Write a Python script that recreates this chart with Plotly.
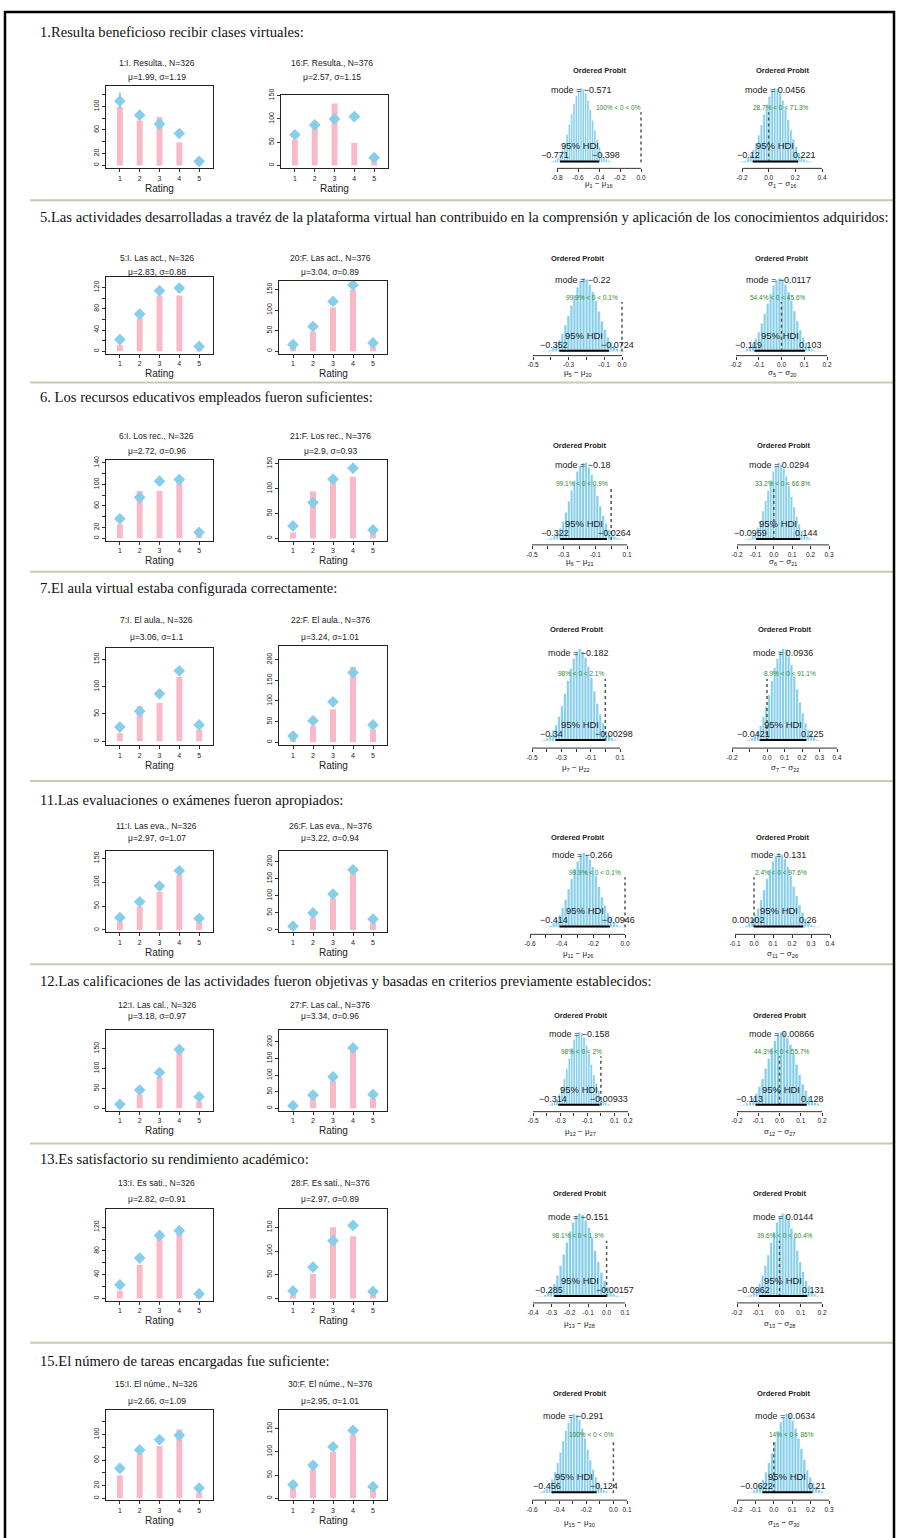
import plotly.graph_objects as go

W, H = 899, 1538


def fx(px):
    return px / W


def fy(py):
    return 1 - py / H


# ------------------------------------------------------------------ data
question_titles = [
    "1.Resulta beneficioso recibir clases virtuales:",
    "5.Las actividades desarrolladas a travéz de la plataforma virtual han contribuido en la comprensión y aplicación de los conocimientos adquiridos:",
    "6. Los recursos educativos empleados fueron suficientes:",
    "7.El aula virtual estaba configurada correctamente:",
    "11.Las evaluaciones o exámenes fueron apropiados:",
    "12.Las calificaciones de las actividades fueron objetivas y basadas en criterios previamente establecidos:",
    "13.Es satisfactorio su rendimiento académico:",
    "15.El número de tareas encargadas fue suficiente:",
]
left_labels = ["1:I. Resulta., N=326", "5:I. Las act., N=326", "6:I. Los rec., N=326", "7:I. El aula., N=326",
               "11:I. Las eva., N=326", "12:I. Las cal., N=326", "13:I. Es sati., N=326", "15:I. El núme., N=326"]
right_labels = ["16:F. Resulta., N=376", "20:F. Las act., N=376", "21:F. Los rec., N=376", "22:F. El aula., N=376",
                "26:F. Las eva., N=376", "27:F. Las cal., N=376", "28:F. Es sati., N=376", "30:F. El núme., N=376"]
left_stats = ["μ=1.99, σ=1.19", "μ=2.83, σ=0.88", "μ=2.72, σ=0.96", "μ=3.06, σ=1.1",
              "μ=2.97, σ=1.07", "μ=3.18, σ=0.97", "μ=2.82, σ=0.91", "μ=2.66, σ=1.09"]
right_stats = ["μ=2.57, σ=1.15", "μ=3.04, σ=0.89", "μ=2.9, σ=0.93", "μ=3.24, σ=1.01",
               "μ=3.22, σ=0.94", "μ=3.34, σ=0.96", "μ=2.97, σ=0.89", "μ=2.95, σ=1.01"]
pair_ids = [(1, 16), (5, 20), (6, 21), (7, 22), (11, 26), (12, 27), (13, 28), (15, 30)]

ratings = [1, 2, 3, 4, 5]

left_counts = [
    [99, 76, 82, 39, 8],
    [12, 62, 105, 105, 5],
    [26, 88, 88, 106, 7],
    [15, 64, 70, 118, 21],
    [16, 49, 80, 115, 16],
    [4, 35, 79, 142, 17],
    [13, 57, 104, 113, 4],
    [36, 70, 82, 108, 9],
]
left_pred = [
    [109, 85, 70, 54, 7],
    [22, 70, 114, 119, 9],
    [36, 76, 106, 109, 11],
    [26, 55, 87, 129, 30],
    [26, 59, 92, 124, 24],
    [10, 46, 90, 148, 29],
    [23, 68, 106, 114, 8],
    [47, 76, 92, 99, 16],
]
left_err = [
    [14, 8, 8, 7, 3],
    [6, 7, 8, 8, 3],
    [7, 7, 8, 8, 3],
    [6, 7, 8, 9, 6],
    [6, 7, 8, 9, 6],
    [4, 6, 8, 9, 6],
    [6, 7, 8, 8, 3],
    [8, 7, 8, 8, 5],
]
right_counts = [
    [56, 80, 133, 49, 24],
    [10, 48, 106, 149, 10],
    [12, 94, 115, 124, 11],
    [10, 40, 80, 183, 30],
    [6, 37, 92, 168, 22],
    [2, 30, 82, 175, 30],
    [9, 52, 150, 131, 8],
    [21, 62, 100, 136, 18],
]
right_pred = [
    [66, 87, 100, 105, 17],
    [16, 60, 121, 161, 20],
    [25, 72, 119, 141, 17],
    [15, 52, 98, 169, 42],
    [11, 50, 105, 176, 32],
    [8, 40, 95, 182, 42],
    [16, 66, 122, 154, 15],
    [29, 71, 111, 146, 25],
]
right_err = [
    [9, 8, 8, 8, 5],
    [5, 7, 9, 9, 5],
    [6, 8, 9, 10, 5],
    [5, 7, 8, 10, 7],
    [4, 7, 9, 10, 7],
    [3, 6, 9, 10, 7],
    [5, 7, 9, 10, 5],
    [6, 7, 9, 9, 5],
]
# y-axis tick step and labelled ticks of the rating panels
left_ystep = [20, 20, 20, 50, 50, 50, 20, 20]
left_ylabels = [[0, 20, 60, 100], [0, 40, 80, 120], [0, 20, 60, 100, 140], [0, 50, 100, 150],
                [0, 50, 100, 150], [0, 50, 100, 150], [0, 40, 80, 120], [0, 20, 60, 100]]
left_yticktop = [120, 120, 140, 150, 150, 150, 120, 120]
right_ystep = [50, 50, 50, 50, 50, 50, 50, 50]
right_ylabels = [[0, 50, 100, 150], [0, 50, 100, 150], [0, 50, 100, 150], [0, 50, 100, 150, 200],
                 [0, 50, 100, 150, 200], [0, 50, 100, 150, 200], [0, 50, 100, 150], [0, 50, 100, 150]]
right_yticktop = [150, 150, 150, 200, 200, 200, 150, 150]

# posterior differences of means (mu) and scales (sigma)
mu_mode = [-0.571, -0.22, -0.18, -0.182, -0.266, -0.158, -0.151, -0.291]
mu_hdi = [(-0.771, -0.398), (-0.352, -0.0724), (-0.322, -0.0264), (-0.34, -0.00298),
          (-0.414, -0.0946), (-0.314, -0.00933), (-0.285, -0.00157), (-0.456, -0.124)]
mu_pct = [(100, 0), (99.9, 0.1), (99.1, 0.9), (98, 2.1), (99.9, 0.1), (98, 2), (98.1, 1.9), (100, 0)]
sd_mode = [0.0456, -0.0117, 0.0294, 0.0936, 0.131, 0.00866, 0.0144, 0.0634]
sd_hdi = [(-0.12, 0.221), (-0.119, 0.103), (-0.0959, 0.144), (-0.0421, 0.225),
          (0.00102, 0.26), (-0.113, 0.128), (-0.0962, 0.131), (-0.0622, 0.21)]
sd_pct = [(28.7, 71.3), (54.4, 45.6), (33.2, 66.8), (8.9, 91.1), (2.4, 97.6), (44.3, 55.7), (39.6, 60.4), (14, 86)]

mu_bin_lo = [-0.868, -0.445, -0.42, -0.445, -0.517, -0.403, -0.377, -0.56]
mu_bin_w = [0.022, 0.017, 0.018, 0.02, 0.019, 0.018, 0.017, 0.02]
sd_bin_lo = [-0.224, -0.184, -0.163, -0.124, -0.078, -0.188, -0.168, -0.146]
sd_bin_w = [0.02, 0.013, 0.014, 0.016, 0.0155, 0.0145, 0.0136, 0.016]

mu_counts = [
    [1, 2, 4, 7, 12, 19, 29, 42, 57, 73, 88, 100, 108, 112, 110, 104, 93, 79, 63, 48, 34, 23, 14, 8, 5, 3, 1, 1],
    [1, 1, 3, 6, 11, 18, 28, 41, 55, 71, 87, 99, 109, 113, 111, 103, 92, 78, 62, 47, 34, 22, 14, 9, 5, 2, 1, 1],
    [1, 2, 3, 6, 10, 17, 27, 40, 56, 72, 86, 99, 107, 111, 112, 105, 94, 80, 64, 49, 35, 24, 15, 9, 5, 3, 2, 1],
    [1, 2, 4, 8, 13, 20, 30, 43, 58, 74, 89, 101, 109, 113, 109, 102, 91, 77, 61, 46, 33, 22, 13, 8, 4, 2, 1, 1],
    [1, 1, 3, 7, 12, 19, 30, 42, 58, 74, 89, 100, 110, 113, 110, 103, 92, 78, 62, 46, 33, 22, 14, 8, 4, 2, 1, 1],
    [1, 2, 4, 7, 11, 18, 28, 41, 56, 72, 88, 101, 108, 112, 111, 104, 92, 79, 63, 47, 34, 23, 14, 8, 5, 3, 1, 1],
    [1, 1, 3, 6, 11, 18, 29, 42, 57, 73, 88, 100, 109, 112, 110, 103, 93, 79, 62, 47, 33, 22, 14, 8, 4, 2, 1, 1],
    [1, 2, 4, 7, 12, 20, 30, 43, 58, 74, 89, 100, 108, 113, 111, 104, 92, 78, 62, 47, 34, 23, 14, 8, 5, 3, 1, 1],
]
sd_counts = [
    [1, 2, 3, 7, 12, 19, 29, 41, 56, 72, 87, 99, 108, 112, 111, 104, 93, 80, 64, 49, 35, 24, 15, 9, 5, 3, 2, 1],
    [1, 1, 4, 7, 12, 20, 30, 43, 58, 73, 88, 101, 109, 112, 110, 102, 91, 78, 62, 47, 33, 22, 14, 8, 4, 2, 1, 1],
    [1, 2, 3, 6, 11, 18, 28, 42, 57, 72, 87, 100, 108, 113, 110, 104, 93, 79, 63, 48, 34, 23, 14, 8, 5, 3, 1, 1],
    [1, 2, 4, 7, 12, 19, 30, 42, 56, 73, 89, 100, 109, 112, 111, 103, 92, 79, 63, 47, 34, 22, 14, 9, 5, 2, 1, 1],
    [1, 1, 3, 7, 11, 19, 29, 42, 57, 74, 88, 100, 108, 113, 110, 104, 92, 78, 62, 48, 34, 23, 14, 8, 4, 2, 1, 1],
    [1, 2, 4, 6, 12, 19, 29, 41, 57, 72, 88, 99, 109, 112, 111, 103, 93, 79, 63, 47, 33, 23, 14, 8, 5, 3, 1, 1],
    [1, 2, 3, 7, 11, 18, 29, 42, 56, 73, 87, 100, 108, 112, 110, 104, 92, 80, 62, 47, 34, 22, 15, 8, 4, 2, 1, 1],
    [1, 1, 4, 7, 12, 19, 30, 43, 57, 73, 88, 101, 108, 113, 111, 103, 92, 78, 63, 48, 33, 23, 14, 9, 5, 3, 1, 1],
]
# all tick marks of the posterior panels, and the ones that carry a label
mu_ticks = [
    [-0.8, -0.6, -0.4, -0.2, 0.0],
    [-0.5, -0.4, -0.3, -0.2, -0.1, 0.0],
    [-0.5, -0.4, -0.3, -0.2, -0.1, 0.0, 0.1],
    [-0.5, -0.4, -0.3, -0.2, -0.1, 0.0, 0.1],
    [-0.6, -0.5, -0.4, -0.3, -0.2, -0.1, 0.0],
    [-0.5, -0.4, -0.3, -0.2, -0.1, 0.0, 0.1, 0.2],
    [-0.4, -0.3, -0.2, -0.1, 0.0, 0.1],
    [-0.6, -0.5, -0.4, -0.3, -0.2, -0.1, 0.0, 0.1],
]
mu_labelled = [
    [-0.8, -0.6, -0.4, -0.2, 0.0],
    [-0.5, -0.3, -0.1, 0.0],
    [-0.5, -0.3, -0.1, 0.1],
    [-0.5, -0.3, -0.1, 0.1],
    [-0.6, -0.4, -0.2, 0.0],
    [-0.5, -0.3, -0.1, 0.1, 0.2],
    [-0.4, -0.3, -0.2, -0.1, 0.0, 0.1],
    [-0.6, -0.4, -0.2, 0.0, 0.1],
]
sd_ticks = [
    [-0.2, 0.0, 0.2, 0.4],
    [-0.2, -0.1, 0.0, 0.1, 0.2],
    [-0.2, -0.1, 0.0, 0.1, 0.2, 0.3],
    [-0.2, -0.1, 0.0, 0.1, 0.2, 0.3, 0.4],
    [-0.1, 0.0, 0.1, 0.2, 0.3, 0.4],
    [-0.2, -0.1, 0.0, 0.1, 0.2],
    [-0.2, -0.1, 0.0, 0.1, 0.2],
    [-0.2, -0.1, 0.0, 0.1, 0.2, 0.3],
]
sd_labelled = [
    [-0.2, 0.0, 0.2, 0.4],
    [-0.2, -0.1, 0.0, 0.1, 0.2],
    [-0.2, -0.1, 0.0, 0.1, 0.2, 0.3],
    [-0.2, 0.0, 0.1, 0.2, 0.3, 0.4],
    [-0.1, 0.0, 0.1, 0.2, 0.3, 0.4],
    [-0.2, -0.1, 0.0, 0.1, 0.2],
    [-0.2, -0.1, 0.0, 0.1, 0.2],
    [-0.2, -0.1, 0.0, 0.1, 0.2, 0.3],
]

# ------------------------------------------------------------------ layout (pixels)
row_title_y = [26, 212, 393, 584, 797, 979, 1158, 1360]
sep_y = [195, 378, 568, 778, 962, 1142, 1342]
left_box = [(106, 213, 80, 163), (106, 213, 272, 349), (106, 213, 456, 537), (106, 213, 645, 742),
            (106, 213, 848, 930), (106, 213, 1028, 1109), (106, 213, 1208, 1300), (106, 213, 1410, 1500)]
right_box = [(281, 388, 89, 163), (279, 387, 276, 349), (279, 387, 456, 537), (279, 387, 643, 742),
             (279, 387, 848, 930), (279, 387, 1028, 1109), (279, 387, 1208, 1300), (279, 387, 1410, 1500)]
left_yrange = [(-5, 135), (-4.5, 140), (-5, 145), (-7, 170), (-5, 166), (-6, 197), (-4, 150), (-3, 138)]
right_yrange = [(-6, 152), (-6, 171), (-5, 157), (-7, 232), (-7, 232), (-7, 236), (-5, 188), (-4, 189)]
bar_title_y = [(57, 71), (253, 267), (432, 447), (616, 633), (823, 835), (1003, 1014), (1182, 1198), (1383, 1400)]

hist_title_y = [65, 253, 441, 626, 835, 1013, 1192, 1393]
hist_peak_y = [82, 273, 458, 645, 850, 1030, 1212, 1413]
hist_base_y = [157, 347, 536, 738, 925, 1104, 1296, 1493]
hist_axis_y = [163, 351, 541, 745, 932, 1110, 1302, 1500]
hist_xlabel_y = [179, 368, 558, 765, 952, 1130, 1323, 1523]
mu_tick_px = [(557, 641), (533, 622), (532, 627), (532, 620), (530, 625), (533, 628), (533, 625), (532, 627)]
sd_tick_px = [(742, 822), (736, 827), (737, 829), (732, 837), (735, 830), (737, 822), (737, 822), (737, 829)]

PINK = "#F9B9C8"
BLUE = "#87CEEB"
SANS = "Liberation Sans, Arial, sans-serif"
SERIF = "Liberation Serif, Times New Roman, serif"

fig = go.Figure()
layout = dict(width=W, height=H, margin=dict(l=0, r=0, t=0, b=0), paper_bgcolor="white",
              plot_bgcolor="white", showlegend=False)
annotations = []
shapes = []
axis_count = [0]


def next_axis():
    axis_count[0] += 1
    n = axis_count[0]
    return "" if n == 1 else str(n)


def text(x, y, s, size, xref="paper", yref="paper", color="#222", family=SANS, xanchor="center",
         yanchor="middle", xshift=0, yshift=0):
    annotations.append(dict(x=x, y=y, xref=xref, yref=yref, text=s, showarrow=False,
                            font=dict(size=size, color=color, family=family), xanchor=xanchor,
                            yanchor=yanchor, xshift=xshift, yshift=yshift))


def fmt(v):
    return ("%g" % round(v, 6))


def rating_panel(box, counts, pred, err, yrng, ystep, ylabs, ytop, t1, t2, ty):
    k = next_axis()
    x0, x1, y0, y1 = box
    fig.add_trace(go.Bar(x=ratings, y=counts, width=0.3, marker=dict(color=PINK, line=dict(width=0)),
                         xaxis="x" + k, yaxis="y" + k, hoverinfo="skip"))
    fig.add_trace(go.Scatter(x=ratings, y=pred, mode="markers",
                             marker=dict(symbol="diamond", size=9, color=BLUE),
                             error_y=dict(type="data", array=err, color=BLUE, thickness=2.2, width=0),
                             xaxis="x" + k, yaxis="y" + k, hoverinfo="skip"))
    layout["xaxis" + k] = dict(domain=[fx(x0), fx(x1)], range=[0.3, 5.7], anchor="y" + k,
                               tickvals=ratings, ticks="outside", ticklen=3, tickcolor="#333",
                               tickfont=dict(size=7, family=SANS, color="#222"), showline=True,
                               mirror=True, linecolor="#222", linewidth=1, showgrid=False,
                               zeroline=False, fixedrange=True)
    tv = list(range(0, ytop + 1, ystep))
    layout["yaxis" + k] = dict(domain=[fy(y1), fy(y0)], range=list(yrng), anchor="x" + k,
                               tickmode="array", tickvals=ylabs, ticktext=[str(v) for v in ylabs],
                               tickangle=-90, ticks="outside", ticklen=3,
                               minor=dict(tickmode="array", tickvals=tv, ticks="outside", ticklen=3,
                                          tickcolor="#333", showgrid=False),
                               tickcolor="#333", tickfont=dict(size=7, family=SANS, color="#222"),
                               showline=True, mirror=True, linecolor="#222", linewidth=1,
                               showgrid=False, zeroline=False, fixedrange=True)
    cx = (x0 + x1) / 2 - 3
    text(fx(cx), fy(ty[0]), t1, 8.5)
    text(fx(cx), fy(ty[1]), t2, 8.5)
    text(fx((x0 + x1) / 2), fy(y1 + 20), "Rating", 10)


def post_panel(lo, w, counts, mode, hdi, pct, ticks, labelled, tpx, r, xlabel):
    k = next_axis()
    centers = [lo + (i + 0.5) * w for i in range(len(counts))]
    ymax = max(counts)
    fig.add_trace(go.Bar(x=centers, y=counts, width=w,
                         marker=dict(color=BLUE, line=dict(color="white", width=0.6)),
                         xaxis="x" + k, yaxis="y" + k, hoverinfo="skip"))
    t0, t1 = ticks[0], ticks[-1]
    p0, p1 = tpx
    ppu = (p1 - p0) / (t1 - t0)
    pad = 0.2 * (t1 - t0)
    layout["xaxis" + k] = dict(domain=[fx(p0 - pad * ppu), fx(p1 + pad * ppu)], range=[t0 - pad, t1 + pad],
                               anchor="free", position=fy(hist_axis_y[r]), side="bottom",
                               tickmode="array", tickvals=labelled, ticktext=["%.1f" % v for v in labelled],
                               ticks="outside", ticklen=3,
                               minor=dict(tickmode="array", tickvals=ticks, ticks="outside", ticklen=3,
                                          tickcolor="#333", showgrid=False),
                               tickcolor="#333", tickfont=dict(size=6.5, family=SANS, color="#222"),
                               showline=False, showgrid=False, zeroline=False, fixedrange=True)
    layout["yaxis" + k] = dict(domain=[fy(hist_base_y[r]), fy(hist_peak_y[r])], range=[0, ymax],
                               anchor="x" + k, visible=False, fixedrange=True)
    xr, yr = "x" + k, "y" + k
    # axis line between first and last tick
    shapes.append(dict(type="line", xref=xr, yref="paper", x0=t0, x1=t1, y0=fy(hist_axis_y[r]),
                       y1=fy(hist_axis_y[r]), line=dict(color="#333", width=1)))
    # comparison value line
    cv = 0.7 * ymax
    shapes.append(dict(type="line", xref=xr, yref=yr, x0=0, x1=0, y0=0, y1=0.96 * cv,
                       line=dict(color="#4a5a4a", width=1.5, dash="dot")))
    # HDI bar
    shapes.append(dict(type="line", xref=xr, yref=yr, x0=hdi[0], x1=hdi[1], y0=0, y1=0,
                       line=dict(color="black", width=4)))
    mid = (p0 + p1) / 2
    text(fx(mid), fy(hist_title_y[r]), "<b>Ordered Probit</b>", 7.5)
    mtxt = "mode = " + fmt(mode).replace("-", "−")
    text(mode, 0.9 * ymax, mtxt, 9, xref=xr, yref=yr, yanchor="bottom", yshift=-2)
    gtxt = "%s%% < 0 < %s%%" % (fmt(pct[0]), fmt(pct[1]))
    gw = len(gtxt) * 3.6
    text(0, cv, gtxt, 6.5, xref=xr, yref=yr, color="#2e8b2e", xanchor="left", yanchor="bottom",
         xshift=-pct[0] / 100 * gw, yshift=-3)
    text((hdi[0] + hdi[1]) / 2, 0, "95% HDI", 9.5, xref=xr, yref=yr, yanchor="bottom", yshift=9)
    for v, adj in ((hdi[0], 0.7), (hdi[1], 0.3)):
        s = ("%.3g" % v).replace("-", "−")
        tw = len(s) * 5.0
        text(v, 0, s, 9, xref=xr, yref=yr, xanchor="left", yanchor="bottom", xshift=-adj * tw, yshift=0)
    text(fx(mid), fy(hist_xlabel_y[r]), xlabel, 8)


for r in range(8):
    text(fx(38), fy(row_title_y[r]), question_titles[r], 14.6, family=SERIF, color="#111", xanchor="left")
    rating_panel(left_box[r], left_counts[r], left_pred[r], left_err[r], left_yrange[r], left_ystep[r],
                 left_ylabels[r], left_yticktop[r], left_labels[r], left_stats[r], bar_title_y[r])
    rating_panel(right_box[r], right_counts[r], right_pred[r], right_err[r], right_yrange[r], right_ystep[r],
                 right_ylabels[r], right_yticktop[r], right_labels[r], right_stats[r], bar_title_y[r])
    a, b = pair_ids[r]
    post_panel(mu_bin_lo[r], mu_bin_w[r], mu_counts[r], mu_mode[r], mu_hdi[r], mu_pct[r], mu_ticks[r],
               mu_labelled[r], mu_tick_px[r], r, "μ<sub>%d</sub> − μ<sub>%d</sub>" % (a, b))
    post_panel(sd_bin_lo[r], sd_bin_w[r], sd_counts[r], sd_mode[r], sd_hdi[r], sd_pct[r], sd_ticks[r],
               sd_labelled[r], sd_tick_px[r], r, "σ<sub>%d</sub> − σ<sub>%d</sub>" % (a, b))

for y in sep_y:
    shapes.append(dict(type="line", xref="paper", yref="paper", x0=fx(30), x1=fx(893), y0=fy(y), y1=fy(y),
                       line=dict(color="#c5cbb5", width=2)))
# outer frame
shapes.append(dict(type="rect", xref="paper", yref="paper", x0=fx(5), x1=fx(894), y0=fy(1545), y1=fy(6),
                   line=dict(color="black", width=2.5)))

layout["annotations"] = annotations
layout["shapes"] = shapes
fig.update_layout(**layout)
fig.write_html("out.html", config={"displayModeBar": False, "staticPlot": True},
               post_script="document.body.style.margin='0px';")
